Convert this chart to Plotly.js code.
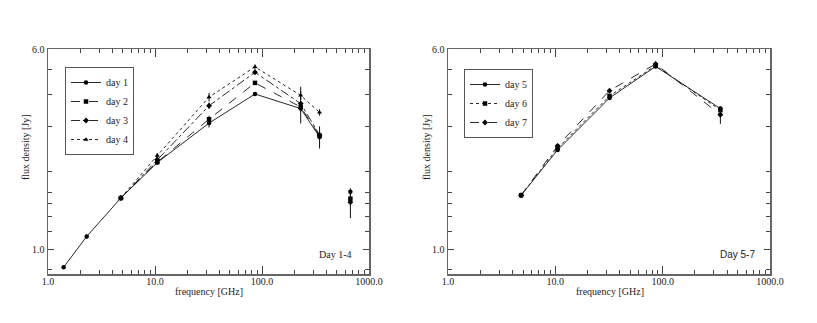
<!DOCTYPE html>
<html>
<head>
<meta charset="utf-8">
<script src="https://cdn.plot.ly/plotly-3.0.1.min.js"></script>
<style>
  body { margin: 0; background: #fff; }
  #chart { width: 817px; height: 323px; }
</style>
</head>
<body>
<div id="chart"></div>
<script>
// frequencies in GHz
var freqA = [1.4, 2.3, 4.8, 10.5, 32, 86, 230, 345];
var freqB = [4.8, 10.5, 32, 86, 230, 345];
var freqSub = [670];
var freqC = [4.8, 10.5, 32, 86, 345];

// flux density [Jy], days 1-4
var day1 = [0.85, 1.12, 1.58, 2.17, 3.09, 4.01, 3.52, 2.73];
var day2 = [1.58, 2.18, 3.2, 4.43, 3.57, 2.76];
var day3 = [1.58, 2.23, 3.61, 4.87, 3.68, 2.78];
var day4 = [1.58, 2.31, 3.9, 5.11, 3.96, 3.4];
var err1 = [0.01, 0.02, 0.03, 0.04, 0.12, 0.05, 0.1, 0.27];
var err2 = [0.03, 0.04, 0.1, 0.06, 0.1, 0.1];
var err3 = [0.03, 0.04, 0.1, 0.06, 0.6, 0.1];
var err4 = [0.03, 0.05, 0.15, 0.12, 0.15, 0.1];

// 670 GHz points (not joined)
var sub1 = [1.67];
var sub2 = [1.57];
var sub3 = [1.52];
var errSub1 = [0.05];
var errSub2 = [0.05];
var errSub3 = [0.2];

// days 5-7
var day5 = [1.62, 2.43, 3.87, 5.13, 3.52];
var day6 = [1.62, 2.47, 3.94, 5.17, 3.47];
var day7 = [1.62, 2.52, 4.13, 5.25, 3.33];
var err5 = [0.02, 0.04, 0.05, 0.06, 0.06];
var err6 = [0.02, 0.04, 0.05, 0.06, 0.05];
var err7 = [0.02, 0.05, 0.06, 0.1, 0.26];

var xTicks = [1, 10, 100, 1000];
var xTickText = ['1.0', '10.0', '100.0', '1000.0'];
var yTicks = [1, 6];
var yTickText = ['1.0', '6.0'];

var serif = 'Liberation Serif, Times New Roman, serif';
var W = 817, H = 323;

function series(x, y, err, name, dash, symbol, xa, ya, legend, showlegend) {
    return {
        x: x, y: y,
        xaxis: xa, yaxis: ya,
        mode: dash ? 'lines+markers' : 'markers',
        name: name,
        legend: legend,
        showlegend: showlegend,
        line: { color: '#111', width: 0.9, dash: dash || 'solid' },
        marker: { color: '#000', size: symbol === 'diamond' ? 4.5 : 4.5, symbol: symbol },
        error_y: { type: 'data', array: err, visible: true, color: '#111', thickness: 1, width: 0 }
    };
}

// minor ticks for log x axis
var xMinor = [];
[1, 10, 100].forEach(function (d) {
    for (var k = 2; k <= 9; k++) xMinor.push(k * d);
});
var yMinor = [5 / 6, 7 / 6, 8 / 6, 9 / 6, 10 / 6, 2, 3, 4, 5];

function xAxis(domain, anchor) {
    return {
        type: 'log', range: [0, 3], domain: domain, anchor: anchor,
        showline: true, linecolor: '#666', linewidth: 1.5, mirror: 'ticks',
        ticks: 'inside', ticklen: 8, tickwidth: 1, tickcolor: '#444',
        tickmode: 'array', tickvals: xTicks, ticktext: xTickText,
        ticklabelstandoff: -3,
        minor: { tickmode: 'array', tickvals: xMinor, ticks: 'inside', ticklen: 4, tickwidth: 1, tickcolor: '#444', showgrid: false },
        showgrid: false, zeroline: false,
        tickfont: { family: serif, size: 10, color: '#222' }
    };
}
function yAxis(anchor) {
    return {
        type: 'log', range: [Math.log10(0.8), Math.log10(6)], domain: [49 / H, 1 - 49 / H], anchor: anchor,
        showline: true, linecolor: '#666', linewidth: 1.5, mirror: 'ticks',
        ticks: 'inside', ticklen: 6, tickwidth: 1, tickcolor: '#444',
        tickmode: 'array', tickvals: yTicks, ticktext: yTickText,
        minor: { tickmode: 'array', tickvals: yMinor, ticks: 'inside', ticklen: 4, tickwidth: 1, tickcolor: '#444', showgrid: false },
        showgrid: false, zeroline: false,
        tickfont: { family: serif, size: 10, color: '#222' }
    };
}

var data = [
    series(freqA, day1, err1, 'day 1', 'solid', 'circle', 'x', 'y', 'legend', true),
    series(freqB, day2, err2, 'day 2', 'dash', 'square', 'x', 'y', 'legend', true),
    series(freqB, day3, err3, 'day 3', 'dashdot', 'diamond', 'x', 'y', 'legend', true),
    series(freqB, day4, err4, 'day 4', 'dot', 'triangle-up', 'x', 'y', 'legend', true),
    series(freqSub, sub1, errSub1, 'day 1', null, 'circle', 'x', 'y', 'legend', false),
    series(freqSub, sub2, errSub2, 'day 2', null, 'square', 'x', 'y', 'legend', false),
    series(freqSub, sub3, errSub3, 'day 3', null, 'diamond', 'x', 'y', 'legend', false),
    series(freqC, day5, err5, 'day 5', 'solid', 'circle', 'x2', 'y2', 'legend2', true),
    series(freqC, day6, err6, 'day 6', 'dot', 'square', 'x2', 'y2', 'legend2', true),
    series(freqC, day7, err7, 'day 7', 'dash', 'diamond', 'x2', 'y2', 'legend2', true)
];

var legendStyle = {
    yanchor: 'top', xanchor: 'left',
    bgcolor: '#fff', bordercolor: '#555', borderwidth: 1,
    font: { family: serif, size: 10, color: '#222' },
    itemwidth: 30, tracegroupgap: 0
};

function label(x, y, text, extra) {
    return Object.assign({
        xref: 'paper', yref: 'paper', x: x / W, y: 1 - y / H,
        xanchor: 'center', yanchor: 'middle',
        text: text, showarrow: false,
        font: { family: serif, size: 10, color: '#222' }
    }, extra || {});
}

var layout = {
    width: W, height: H,
    margin: { l: 0, r: 0, t: 0, b: 0 },
    paper_bgcolor: '#fff', plot_bgcolor: '#fff',
    xaxis: xAxis([48 / W, 369 / W], 'y'),
    yaxis: yAxis('x'),
    xaxis2: xAxis([448 / W, 770 / W], 'y2'),
    yaxis2: yAxis('x2'),
    legend: Object.assign({ x: 65 / W, y: 1 - 67 / H }, legendStyle),
    legend2: Object.assign({ x: 464 / W, y: 1 - 69 / H }, legendStyle),
    annotations: [
        label(26, 147, 'flux density [Jy]', { textangle: -90 }),
        label(427, 147, 'flux density [Jy]', { textangle: -90 }),
        label(209, 291, 'frequency [GHz]'),
        label(610, 291, 'frequency [GHz]'),
        label(354, 254, 'Day 1-4', { xanchor: 'right' }),
        label(757, 254, 'Day 5-7', { xanchor: 'right', font: { family: 'Liberation Sans, Arial, sans-serif', size: 10, color: '#222' } })
    ]
};

Plotly.newPlot('chart', data, layout, { staticPlot: true });
</script>
</body>
</html>
